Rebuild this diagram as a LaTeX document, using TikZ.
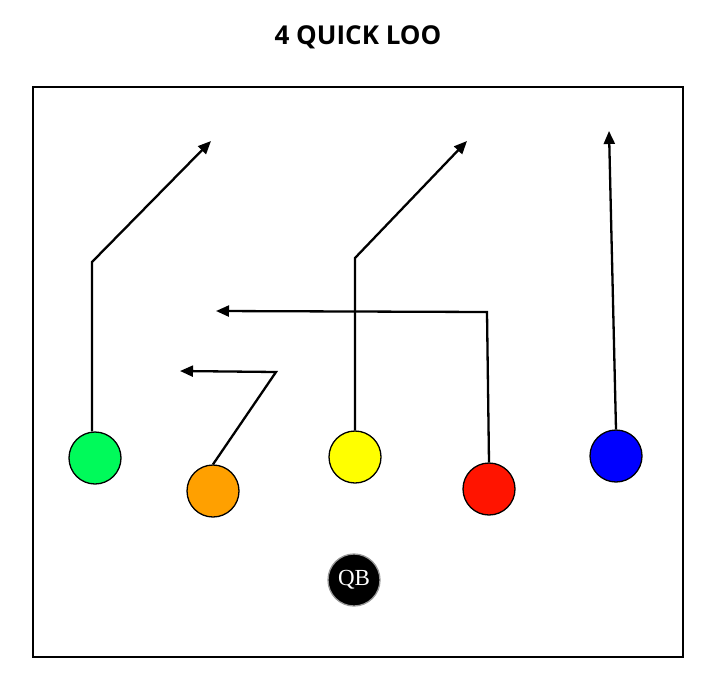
\documentclass[tikz,border=0pt]{standalone}
\usepackage{fontspec}
\newfontfamily\titlefont{Open Sans}
\setmainfont{Liberation Serif}
\usetikzlibrary{arrows.meta}
\begin{document}
\begin{tikzpicture}[x=1pt,y=-1pt,
  player/.style={circle,draw=black,line width=1.3pt,minimum size=52pt,inner sep=0pt},
  route/.style={draw=black,line width=2.3pt,-{Triangle[length=13pt,width=11pt]}},
]
\useasboundingbox (0,0) rectangle (717,685);
\node[font=\titlefont\bfseries\fontsize{26}{30}\selectfont] (title) at (358,37) {4 QUICK LOO};
\draw[line width=1.2pt] (33,87) rectangle (683,657);

\node[player,fill={rgb,255:red,0;green,250;blue,90}] (green) at (95,458) {};
\node[player,fill={rgb,255:red,255;green,160;blue,0}] (orange) at (213,491) {};
\node[player,fill={rgb,255:red,255;green,255;blue,0}] (yellow) at (355,457) {};
\node[player,fill={rgb,255:red,255;green,20;blue,0}] (red) at (489,489) {};
\node[player,fill={rgb,255:red,0;green,0;blue,255}] (blue) at (616,456) {};
\node[player,fill=black,draw=black!40,text=white,font=\fontsize{23}{26}\selectfont] (qb) at (354,580) {QB};

\coordinate (g1) at (92,262);
\coordinate (g2) at (211,141);
\coordinate (o1) at (276,372);
\coordinate (o2) at (180,371);
\coordinate (y1) at (355,258);
\coordinate (y2) at (467,141);
\coordinate (r1) at (487,312);
\coordinate (r2) at (216,311);
\coordinate (b2) at (609,131);

\draw[route] (green.north -| g1) -- (g1) -- (g2);
\draw[route] (orange.north) -- (o1) -- (o2);
\draw[route] (yellow.north) -- (y1) -- (y2);
\draw[route] (red.north) -- (r1) -- (r2);
\draw[route] (blue.north) -- (b2);
\end{tikzpicture}
\end{document}
